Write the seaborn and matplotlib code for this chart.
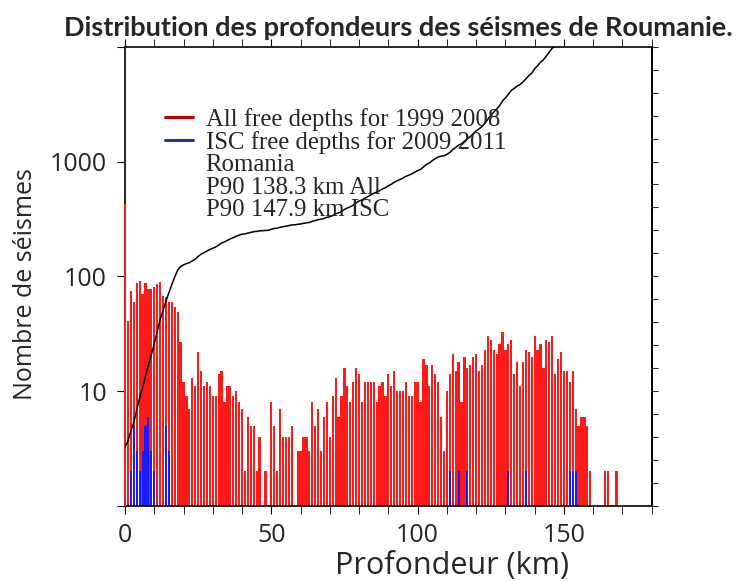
import numpy as np
import pandas as pd
import matplotlib
matplotlib.use("Agg")
import matplotlib.pyplot as plt
import seaborn as sns
from matplotlib.lines import Line2D
from matplotlib.ticker import FixedLocator, NullFormatter, MultipleLocator
from matplotlib.transforms import Bbox, TransformedBbox

# depth bins (km), 1 km wide
depth = list(range(0, 169))

# All free depths 1999-2008 (number of events per km)
all_counts = [
    428, 41, 75, 60, 88, 91, 70, 87, 77, 77,       # 0-9
    81, 85, 89, 68, 66, 60, 60, 54, 49, 27,        # 10-19
    12, 9, 7, 13, 11, 22, 15, 11, 12, 11,          # 20-29
    9, 9, 14, 15, 8, 11, 11, 9, 10, 8,             # 30-39
    7, 2, 6, 5, 5, 2, 4, 1, 2, 1,                  # 40-49
    8, 5, 2, 7, 4, 4, 4, 5, 1, 3,                  # 50-59
    3, 4, 4, 3, 8, 5, 7, 3, 6, 8,                  # 60-69
    4, 9, 13, 6, 9, 16, 11, 8, 12, 16,             # 70-79
    14, 8, 12, 12, 12, 12, 8, 11, 12, 9,           # 80-89
    14, 11, 15, 10, 10, 10, 12, 9, 9, 12,          # 90-99
    12, 8, 19, 17, 11, 17, 14, 12, 6, 3,           # 100-109
    10, 14, 21, 15, 18, 8, 20, 16, 17, 20,         # 110-119
    21, 15, 17, 23, 30, 28, 23, 21, 26, 33,        # 120-129
    23, 26, 28, 14, 18, 11, 18, 23, 22, 20,        # 130-139
    30, 23, 26, 16, 28, 27, 30, 14, 19, 22,        # 140-149
    15, 15, 12, 15, 7, 5, 6, 6, 5, 2,              # 150-159
    0, 0, 0, 0, 2, 2, 0, 0, 2,                     # 160-168
]

# ISC free depths 2009-2011
isc_depth = [2, 3, 4, 5, 6, 7, 8, 9, 10, 14, 15, 111, 114, 117, 131, 137, 152, 153, 154]
isc_counts = [2, 5, 3, 2, 3, 5, 6, 3, 2, 5, 3, 2, 2, 2, 2, 2, 2, 2, 2]

legend_labels = [
    "All free depths for 1999 2008",
    "ISC free depths for 2009 2011",
    "Romania",
    "P90 138.3 km All",
    "P90 147.9 km ISC",
]

df = pd.DataFrame({"depth": depth, "n": all_counts})
df["cum"] = df["n"].cumsum() / df["n"].sum()
isc = pd.DataFrame({"depth": isc_depth, "n": isc_counts})

sns.set_style("ticks")
plt.rcParams["font.family"] = ["Open Sans", "DejaVu Sans"]

fig = plt.figure(figsize=(7.37, 5.81), dpi=100)
ax = fig.add_axes([125 / 737, 1 - 506 / 581, (651.7 - 125) / 737, (506 - 46.7) / 581])

sns.histplot(data=df, x="depth", weights="n", discrete=True, shrink=0.76,
             color="#ff1a1a", alpha=1, linewidth=0, ax=ax)
# the 0 km bar sits on the left frame: draw it above the spine,
# clipped vertically to the axes but allowed over the frame line
bar0 = ax.patches[0]
bar0.set_zorder(3)
bar0.set_clip_box(TransformedBbox(Bbox([[-0.003, 0], [1, 1]]), ax.transAxes))
sns.histplot(data=isc, x="depth", weights="n", discrete=True, shrink=0.7,
             color="#1a1aff", alpha=1, linewidth=0, ax=ax)
ax.set_yscale("log")
ax.set_ylim(1, 10000)
ax.set_xlim(0, 180)

ax.yaxis.set_major_locator(FixedLocator([1, 10, 100, 1000, 10000]))
ax.yaxis.set_minor_locator(FixedLocator([]))
ax.set_yticklabels(["", "10", "100", "1000", ""])
ax.xaxis.set_major_locator(MultipleLocator(50))
ax.xaxis.set_minor_locator(MultipleLocator(10))
ax.tick_params(axis="both", which="both", direction="out", labelsize=18, color="black")
ax.tick_params(axis="y", which="major", length=6, pad=7)
ax.tick_params(axis="x", which="major", length=6, pad=6)
ax.tick_params(axis="x", which="minor", length=6)
ax.tick_params(top=True, which="both")
ax.set_xlabel("")
ax.set_ylabel("")

# cumulative curve on a linear twin axis
ax2 = ax.twinx()
sns.lineplot(data=df, x="depth", y="cum", color="black", linewidth=1.1, ax=ax2)
top = 0.96
ax2.set_ylim(0, top)
ax2.yaxis.set_major_locator(FixedLocator(np.linspace(0, top, 21)))
ax2.yaxis.set_major_formatter(NullFormatter())
ax2.tick_params(axis="y", direction="out", length=4)
ax2.set_ylabel("")
ax2.set_xlim(0, 180)

for s in ax.spines.values():
    s.set_visible(True)
    s.set_linewidth(1.2)
    s.set_color("black")
for name, s in ax2.spines.items():
    s.set_visible(name == "right")
    s.set_linewidth(1.2)
    s.set_color("black")

handles = [
    Line2D([], [], color="#c00000", linewidth=2.2),
    Line2D([], [], color="#1f3a8f", linewidth=2.2),
    Line2D([], [], color="none"),
    Line2D([], [], color="none"),
    Line2D([], [], color="none"),
]
ax2.legend(handles, legend_labels, loc="upper left",
           bbox_to_anchor=((165 - 125) / 526.7, 1 - (108 - 46.7) / 459.3),
           frameon=False, handlelength=1.15, handletextpad=0.5,
           labelspacing=0.0, borderpad=0, borderaxespad=0,
           prop={"family": "Liberation Serif", "size": 17.8})

fig.text(398 / 737, 1 - 28 / 581, "Distribution des profondeurs des séismes de Roumanie.",
         ha="center", va="center", fontsize=19.5, fontweight="bold", family="Lato")
fig.text(452 / 737, 1 - 566 / 581, "Profondeur (km)", ha="center", va="center", fontsize=22)
fig.text(26 / 737, 1 - 284 / 581, "Nombre de séismes", ha="center", va="center",
         rotation=90, fontsize=18)

fig.savefig("out.png", dpi=100)
